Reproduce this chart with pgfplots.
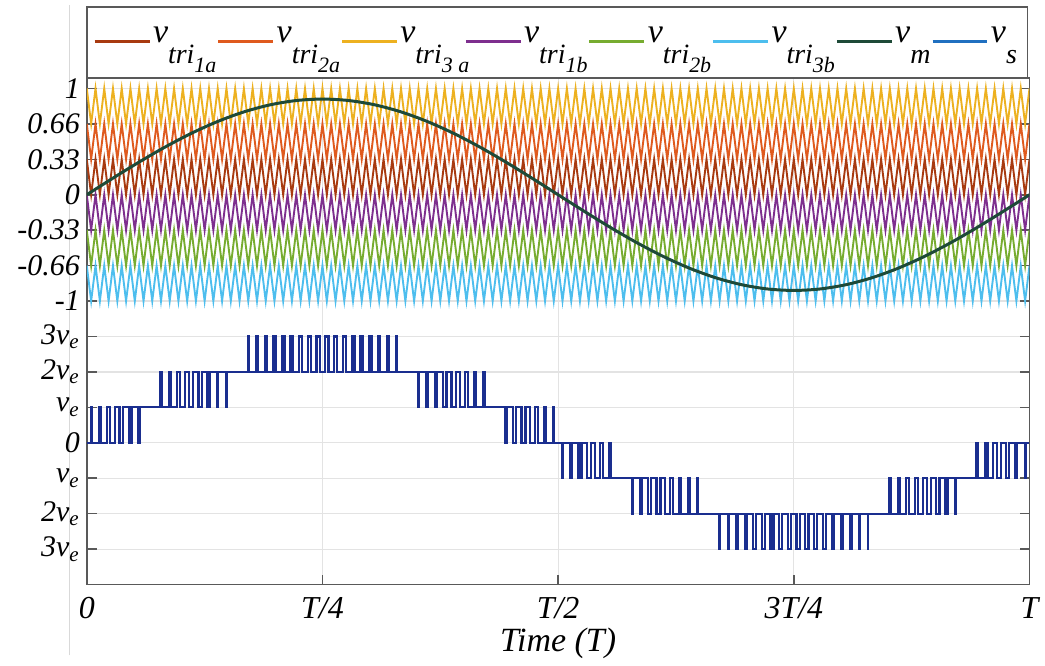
\documentclass[border=0pt]{standalone}
\usepackage{pgfplots}
\pgfplotsset{compat=1.18}
\usepackage{pgfplotstable}
\usepackage{fontspec}
\setmainfont{Liberation Serif}

\definecolor{c1a}{HTML}{A83A10}
\definecolor{c2a}{HTML}{DF5A1E}
\definecolor{c3a}{HTML}{EDB120}
\definecolor{c1b}{HTML}{7E2F8E}
\definecolor{c2b}{HTML}{77AC30}
\definecolor{c3b}{HTML}{4DBEEE}
\definecolor{cvm}{HTML}{1E4A38}
\definecolor{cvs}{HTML}{2070C0}
\definecolor{cpwm}{HTML}{1A2E8F}

\newcommand{\vsub}[2]{{\fontsize{17}{17}\selectfont\itshape v}\raisebox{-10.5pt}{\fontsize{14}{14}\selectfont\itshape #1\raisebox{-4.5pt}{\fontsize{11}{11}\selectfont #2}}}
\newcommand{\vone}[1]{{\fontsize{17}{17}\selectfont\itshape v}\raisebox{-10.5pt}{\fontsize{14}{14}\selectfont\itshape #1}}

% carrier: index of half carrier period, k = 1 at the top vertex, 0 at the bottom one
\pgfplotstableread[row sep=\\]{
i k\\
0 1\\1 0\\2 1\\3 0\\4 1\\5 0\\6 1\\7 0\\8 1\\9 0\\
10 1\\11 0\\12 1\\13 0\\14 1\\15 0\\16 1\\17 0\\18 1\\19 0\\
20 1\\21 0\\22 1\\23 0\\24 1\\25 0\\26 1\\27 0\\28 1\\29 0\\
30 1\\31 0\\32 1\\33 0\\34 1\\35 0\\36 1\\37 0\\38 1\\39 0\\
40 1\\41 0\\42 1\\43 0\\44 1\\45 0\\46 1\\47 0\\48 1\\49 0\\
50 1\\51 0\\52 1\\53 0\\54 1\\55 0\\56 1\\57 0\\58 1\\59 0\\
60 1\\61 0\\62 1\\63 0\\64 1\\65 0\\66 1\\67 0\\68 1\\69 0\\
70 1\\71 0\\72 1\\73 0\\74 1\\75 0\\76 1\\77 0\\78 1\\79 0\\
80 1\\81 0\\82 1\\83 0\\84 1\\85 0\\86 1\\87 0\\88 1\\89 0\\
90 1\\91 0\\92 1\\93 0\\94 1\\95 0\\96 1\\97 0\\98 1\\99 0\\
100 1\\101 0\\102 1\\103 0\\104 1\\105 0\\106 1\\107 0\\108 1\\109 0\\
110 1\\111 0\\112 1\\113 0\\114 1\\115 0\\116 1\\117 0\\118 1\\119 0\\
120 1\\121 0\\122 1\\123 0\\124 1\\125 0\\126 1\\127 0\\128 1\\129 0\\
130 1\\131 0\\132 1\\133 0\\134 1\\135 0\\136 1\\137 0\\138 1\\139 0\\
140 1\\141 0\\142 1\\143 0\\144 1\\145 0\\146 1\\147 0\\148 1\\149 0\\
150 1\\151 0\\152 1\\153 0\\154 1\\155 0\\156 1\\157 0\\158 1\\159 0\\
160 1\\161 0\\162 1\\163 0\\164 1\\165 0\\166 1\\167 0\\168 1\\169 0\\
170 1\\171 0\\172 1\\173 0\\174 1\\175 0\\176 1\\177 0\\178 1\\179 0\\
180 1\\181 0\\182 1\\183 0\\184 1\\185 0\\186 1\\187 0\\188 1\\189 0\\
190 1\\191 0\\192 1\\193 0\\194 1\\195 0\\196 1\\197 0\\198 1\\199 0\\
200 1\\201 0\\202 1\\203 0\\204 1\\205 0\\206 1\\207 0\\208 1\\209 0\\
210 1\\211 0\\212 1\\213 0\\214 1\\215 0\\216 1\\
}\carrier

\begin{document}
\begin{tikzpicture}
% faint page-edge line of the original (drawn first, behind the labels)
\draw[gray!30, line width=0.6pt] (35pt,0pt) -- (35pt,326pt);
\begin{axis}[name=main, at={(43.5pt,35.5pt)}, anchor=south west,
  scale only axis, width=472.5pt, height=254pt,
  xmin=0, xmax=216, ymin=-3.6667, ymax=1.1,
  xtick={0,54,108,162,216},
  xticklabels={0,T/4,T/2,3T/4,T},
  xtick pos=bottom,
  ytick={1,0.6667,0.3333,0,-0.3333,-0.6667,-1,-1.3333,-1.6667,-2,-2.3333,-2.6667,-3,-3.3333},
  yticklabels={1,0.66,0.33,0,-0.33,-0.66,-1,3v\textsubscript{e},2v\textsubscript{e},v\textsubscript{e},0,v\textsubscript{e},2v\textsubscript{e},3v\textsubscript{e}},
  tick align=inside, major tick length=5pt,
  xticklabel style={font=\fontsize{16}{18}\selectfont\itshape, yshift=-3pt},
  yticklabel style={font=\fontsize{15}{17}\selectfont\itshape},
  xlabel={Time (T)},
  xlabel style={font=\fontsize{17}{19}\selectfont\itshape, yshift=2.5pt},
  grid=major, major grid style={gray!22, line width=0.6pt},
  axis line style={black!65, line width=0.8pt},
  tick style={black!65, line width=0.8pt},
  legend image code/.code={\draw[#1] (0pt,-2.5pt) -- (27.5pt,-2.5pt);},
  legend columns=8,
  legend style={draw=none, fill=none, at={(0,1)}, anchor=south west,
    xshift=3pt, yshift=15pt, inner sep=0pt, column sep=0pt,
    nodes={inner sep=1pt}, cells={anchor=west}},
]
\addlegendimage{c1a, line width=1.5pt}\addlegendentry{\makebox[31pt][l]{\vsub{tri}{1a}}}
\addlegendimage{c2a, line width=1.5pt}\addlegendentry{\makebox[31pt][l]{\vsub{tri}{2a}}}
\addlegendimage{c3a, line width=1.5pt}\addlegendentry{\makebox[31pt][l]{\vsub{tri}{3 a}}}
\addlegendimage{c1b, line width=1.5pt}\addlegendentry{\makebox[31pt][l]{\vsub{tri}{1b}}}
\addlegendimage{c2b, line width=1.5pt}\addlegendentry{\makebox[31pt][l]{\vsub{tri}{2b}}}
\addlegendimage{c3b, line width=1.5pt}\addlegendentry{\makebox[31pt][l]{\vsub{tri}{3b}}}
\addlegendimage{cvm, line width=1.5pt}\addlegendentry{\makebox[17pt][l]{\vone{m}}}
\addlegendimage{cvs, line width=1.5pt}\addlegendentry{\makebox[12pt][l]{\vone{s}}}

% carriers
\addplot[forget plot, c3a, line width=0.95pt] table[x=i, y expr=\thisrow{k}/3+0.6667] {\carrier};
\addplot[forget plot, c2a, line width=0.95pt] table[x=i, y expr=\thisrow{k}/3+0.3333] {\carrier};
\addplot[forget plot, c1a, line width=0.95pt] table[x=i, y expr=\thisrow{k}/3] {\carrier};
\addplot[forget plot, c1b, line width=0.95pt] table[x=i, y expr=\thisrow{k}/3-0.3333] {\carrier};
\addplot[forget plot, c2b, line width=0.95pt] table[x=i, y expr=\thisrow{k}/3-0.6667] {\carrier};
\addplot[forget plot, c3b, line width=0.95pt] table[x=i, y expr=\thisrow{k}/3-1] {\carrier};

% modulating signal v_m
\addplot[forget plot, cvm, line width=1.5pt, smooth] coordinates {
(0,0)(6,0.1563)(12,0.3078)(18,0.45)(24,0.5785)(30,0.6894)(36,0.7794)(42,0.8457)(48,0.8863)(54,0.9)
(60,0.8863)(66,0.8457)(72,0.7794)(78,0.6894)(84,0.5785)(90,0.45)(96,0.3078)(102,0.1563)(108,0)
(114,-0.1563)(120,-0.3078)(126,-0.45)(132,-0.5785)(138,-0.6894)(144,-0.7794)(150,-0.8457)(156,-0.8863)(162,-0.9)
(168,-0.8863)(174,-0.8457)(180,-0.7794)(186,-0.6894)(192,-0.5785)(198,-0.45)(204,-0.3078)(210,-0.1563)(216,0)
};

% output voltage v_s (levels: 3ve=-1.3333 ... 0=-2.3333 ... -3ve=-3.3333)
\addplot[forget plot, cpwm, line width=1.1pt] coordinates {
(0,-2.3333)
(0.931,-2.3333)(0.931,-2)(1.069,-2)(1.069,-2.3333)
(2.793,-2.3333)(2.793,-2)(3.207,-2)(3.207,-2.3333)
(4.656,-2.3333)(4.656,-2)(5.344,-2)(5.344,-2.3333)
(6.521,-2.3333)(6.521,-2)(7.479,-2)(7.479,-2.3333)
(8.387,-2.3333)(8.387,-2)(9.613,-2)(9.613,-2.3333)
(10.254,-2.3333)(10.254,-2)(11.746,-2)(11.746,-2.3333)
(12.125,-2.3333)(12.125,-2)
(16.875,-2)(16.875,-1.6667)(17.125,-1.6667)(17.125,-2)
(18.756,-2)(18.756,-1.6667)(19.244,-1.6667)(19.244,-2)
(20.641,-2)(20.641,-1.6667)(21.359,-1.6667)(21.359,-2)
(22.53,-2)(22.53,-1.6667)(23.47,-1.6667)(23.47,-2)
(24.424,-2)(24.424,-1.6667)(25.576,-1.6667)(25.576,-2)
(26.324,-2)(26.324,-1.6667)(27.676,-1.6667)(27.676,-2)
(28.23,-2)(28.23,-1.6667)(29.77,-1.6667)(29.77,-2)
(30.141,-2)(30.141,-1.6667)(31.859,-1.6667)(31.859,-2)
(32.059,-2)(32.059,-1.6667)
(36.914,-1.6667)(36.914,-1.3333)(37.086,-1.3333)(37.086,-1.6667)
(38.852,-1.6667)(38.852,-1.3333)(39.148,-1.3333)(39.148,-1.6667)
(40.797,-1.6667)(40.797,-1.3333)(41.203,-1.3333)(41.203,-1.6667)
(42.75,-1.6667)(42.75,-1.3333)(43.25,-1.3333)(43.25,-1.6667)
(44.711,-1.6667)(44.711,-1.3333)(45.289,-1.3333)(45.289,-1.6667)
(46.679,-1.6667)(46.679,-1.3333)(47.321,-1.3333)(47.321,-1.6667)
(48.655,-1.6667)(48.655,-1.3333)(49.345,-1.3333)(49.345,-1.6667)
(50.639,-1.6667)(50.639,-1.3333)(51.361,-1.3333)(51.361,-1.6667)
(52.631,-1.6667)(52.631,-1.3333)(53.369,-1.3333)(53.369,-1.6667)
(54.631,-1.6667)(54.631,-1.3333)(55.369,-1.3333)(55.369,-1.6667)
(56.639,-1.6667)(56.639,-1.3333)(57.361,-1.3333)(57.361,-1.6667)
(58.655,-1.6667)(58.655,-1.3333)(59.345,-1.3333)(59.345,-1.6667)
(60.679,-1.6667)(60.679,-1.3333)(61.321,-1.3333)(61.321,-1.6667)
(62.711,-1.6667)(62.711,-1.3333)(63.289,-1.3333)(63.289,-1.6667)
(64.75,-1.6667)(64.75,-1.3333)(65.25,-1.3333)(65.25,-1.6667)
(66.797,-1.6667)(66.797,-1.3333)(67.203,-1.3333)(67.203,-1.6667)
(68.852,-1.6667)(68.852,-1.3333)(69.148,-1.3333)(69.148,-1.6667)
(70.914,-1.6667)(70.914,-1.3333)(71.086,-1.3333)(71.086,-1.6667)
(75.941,-1.6667)(75.941,-2)
(76.141,-2)(76.141,-1.6667)(77.859,-1.6667)(77.859,-2)
(78.23,-2)(78.23,-1.6667)(79.77,-1.6667)(79.77,-2)
(80.324,-2)(80.324,-1.6667)(81.676,-1.6667)(81.676,-2)
(82.424,-2)(82.424,-1.6667)(83.576,-1.6667)(83.576,-2)
(84.53,-2)(84.53,-1.6667)(85.47,-1.6667)(85.47,-2)
(86.641,-2)(86.641,-1.6667)(87.359,-1.6667)(87.359,-2)
(88.756,-2)(88.756,-1.6667)(89.244,-1.6667)(89.244,-2)
(90.875,-2)(90.875,-1.6667)(91.125,-1.6667)(91.125,-2)
(95.875,-2)(95.875,-2.3333)
(96.254,-2.3333)(96.254,-2)(97.746,-2)(97.746,-2.3333)
(98.387,-2.3333)(98.387,-2)(99.613,-2)(99.613,-2.3333)
(100.521,-2.3333)(100.521,-2)(101.479,-2)(101.479,-2.3333)
(102.656,-2.3333)(102.656,-2)(103.344,-2)(103.344,-2.3333)
(104.793,-2.3333)(104.793,-2)(105.207,-2)(105.207,-2.3333)
(106.931,-2.3333)(106.931,-2)(107.069,-2)(107.069,-2.3333)
(108.931,-2.3333)(108.931,-2.6667)(109.069,-2.6667)(109.069,-2.3333)
(110.793,-2.3333)(110.793,-2.6667)(111.207,-2.6667)(111.207,-2.3333)
(112.656,-2.3333)(112.656,-2.6667)(113.344,-2.6667)(113.344,-2.3333)
(114.521,-2.3333)(114.521,-2.6667)(115.479,-2.6667)(115.479,-2.3333)
(116.387,-2.3333)(116.387,-2.6667)(117.613,-2.6667)(117.613,-2.3333)
(118.254,-2.3333)(118.254,-2.6667)(119.746,-2.6667)(119.746,-2.3333)
(120.125,-2.3333)(120.125,-2.6667)
(124.875,-2.6667)(124.875,-3)(125.125,-3)(125.125,-2.6667)
(126.756,-2.6667)(126.756,-3)(127.244,-3)(127.244,-2.6667)
(128.641,-2.6667)(128.641,-3)(129.359,-3)(129.359,-2.6667)
(130.53,-2.6667)(130.53,-3)(131.47,-3)(131.47,-2.6667)
(132.424,-2.6667)(132.424,-3)(133.576,-3)(133.576,-2.6667)
(134.324,-2.6667)(134.324,-3)(135.676,-3)(135.676,-2.6667)
(136.23,-2.6667)(136.23,-3)(137.77,-3)(137.77,-2.6667)
(138.141,-2.6667)(138.141,-3)(139.859,-3)(139.859,-2.6667)
(140.059,-2.6667)(140.059,-3)
(144.914,-3)(144.914,-3.3333)(145.086,-3.3333)(145.086,-3)
(146.852,-3)(146.852,-3.3333)(147.148,-3.3333)(147.148,-3)
(148.797,-3)(148.797,-3.3333)(149.203,-3.3333)(149.203,-3)
(150.75,-3)(150.75,-3.3333)(151.25,-3.3333)(151.25,-3)
(152.711,-3)(152.711,-3.3333)(153.289,-3.3333)(153.289,-3)
(154.679,-3)(154.679,-3.3333)(155.321,-3.3333)(155.321,-3)
(156.655,-3)(156.655,-3.3333)(157.345,-3.3333)(157.345,-3)
(158.639,-3)(158.639,-3.3333)(159.361,-3.3333)(159.361,-3)
(160.631,-3)(160.631,-3.3333)(161.369,-3.3333)(161.369,-3)
(162.631,-3)(162.631,-3.3333)(163.369,-3.3333)(163.369,-3)
(164.639,-3)(164.639,-3.3333)(165.361,-3.3333)(165.361,-3)
(166.655,-3)(166.655,-3.3333)(167.345,-3.3333)(167.345,-3)
(168.679,-3)(168.679,-3.3333)(169.321,-3.3333)(169.321,-3)
(170.711,-3)(170.711,-3.3333)(171.289,-3.3333)(171.289,-3)
(172.75,-3)(172.75,-3.3333)(173.25,-3.3333)(173.25,-3)
(174.797,-3)(174.797,-3.3333)(175.203,-3.3333)(175.203,-3)
(176.852,-3)(176.852,-3.3333)(177.148,-3.3333)(177.148,-3)
(178.914,-3)(178.914,-3.3333)(179.086,-3.3333)(179.086,-3)
(183.941,-3)(183.941,-2.6667)
(184.141,-2.6667)(184.141,-3)(185.859,-3)(185.859,-2.6667)
(186.23,-2.6667)(186.23,-3)(187.77,-3)(187.77,-2.6667)
(188.324,-2.6667)(188.324,-3)(189.676,-3)(189.676,-2.6667)
(190.424,-2.6667)(190.424,-3)(191.576,-3)(191.576,-2.6667)
(192.53,-2.6667)(192.53,-3)(193.47,-3)(193.47,-2.6667)
(194.641,-2.6667)(194.641,-3)(195.359,-3)(195.359,-2.6667)
(196.756,-2.6667)(196.756,-3)(197.244,-3)(197.244,-2.6667)
(198.875,-2.6667)(198.875,-3)(199.125,-3)(199.125,-2.6667)
(203.875,-2.6667)(203.875,-2.3333)
(204.254,-2.3333)(204.254,-2.6667)(205.746,-2.6667)(205.746,-2.3333)
(206.387,-2.3333)(206.387,-2.6667)(207.613,-2.6667)(207.613,-2.3333)
(208.521,-2.3333)(208.521,-2.6667)(209.479,-2.6667)(209.479,-2.3333)
(210.656,-2.3333)(210.656,-2.6667)(211.344,-2.6667)(211.344,-2.3333)
(212.793,-2.3333)(212.793,-2.6667)(213.207,-2.6667)(213.207,-2.3333)
(214.931,-2.3333)(214.931,-2.6667)(215.069,-2.6667)(215.069,-2.3333)
(216,-2.3333)
};
\end{axis}
% legend frame
\draw[black!65, line width=0.8pt] (main.north west) rectangle ([xshift=-1pt, yshift=35.5pt]main.north east);
% picture size
\path (0pt,0pt) rectangle (522.5pt,328.5pt);
\end{tikzpicture}
\end{document}
